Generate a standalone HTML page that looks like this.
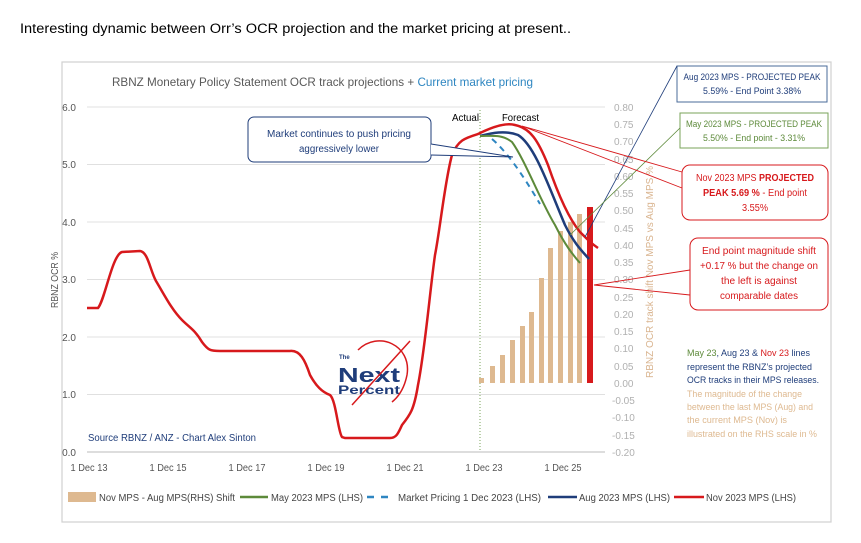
<!DOCTYPE html>
<html><head><meta charset="utf-8"><style>
body{margin:0;background:#fff;width:861px;height:538px;overflow:hidden;font-family:"Liberation Sans",sans-serif}
</style></head><body>
<svg width="861" height="538" xmlns="http://www.w3.org/2000/svg" font-family="Liberation Sans, sans-serif">
<text x="20" y="33" font-size="13.5" fill="#000" textLength="551" lengthAdjust="spacingAndGlyphs">Interesting dynamic between Orr’s OCR projection and the market pricing at present..</text>
<rect x="62" y="62" width="769" height="460" fill="none" stroke="#d0d0d0" stroke-width="1.2"/>
<text x="112" y="86" font-size="12" fill="#595959" textLength="421" lengthAdjust="spacingAndGlyphs">RBNZ Monetary Policy Statement OCR track projections + <tspan fill="#2e86c1">Current market pricing</tspan></text>
<g stroke="#e0e0e0" stroke-width="1">
<line x1="87" y1="107" x2="605" y2="107"/><line x1="87" y1="164.5" x2="605" y2="164.5"/><line x1="87" y1="222" x2="605" y2="222"/><line x1="87" y1="279.5" x2="605" y2="279.5"/><line x1="87" y1="337" x2="605" y2="337"/><line x1="87" y1="394.5" x2="605" y2="394.5"/>
</g>
<line x1="87" y1="452" x2="605" y2="452" stroke="#bbb"/>
<g font-size="10" fill="#555" text-anchor="end">
<text x="76" y="111">6.0</text><text x="76" y="168">5.0</text><text x="76" y="226">4.0</text><text x="76" y="283">3.0</text><text x="76" y="341">2.0</text><text x="76" y="398">1.0</text><text x="76" y="456">0.0</text>
</g>
<text transform="translate(58,280) rotate(-90)" font-size="10" fill="#555" text-anchor="middle" textLength="56" lengthAdjust="spacingAndGlyphs">RBNZ OCR %</text>
<g font-size="10" fill="#555" text-anchor="middle">
<text x="89" y="471" textLength="37" lengthAdjust="spacingAndGlyphs">1 Dec 13</text><text x="168" y="471" textLength="37" lengthAdjust="spacingAndGlyphs">1 Dec 15</text><text x="247" y="471" textLength="37" lengthAdjust="spacingAndGlyphs">1 Dec 17</text><text x="326" y="471" textLength="37" lengthAdjust="spacingAndGlyphs">1 Dec 19</text><text x="405" y="471" textLength="37" lengthAdjust="spacingAndGlyphs">1 Dec 21</text><text x="484" y="471" textLength="37" lengthAdjust="spacingAndGlyphs">1 Dec 23</text><text x="563" y="471" textLength="37" lengthAdjust="spacingAndGlyphs">1 Dec 25</text>
</g>
<g font-size="10" fill="#b0b0b0">
<text x="614" y="111">0.80</text><text x="614" y="128">0.75</text><text x="614" y="145">0.70</text><text x="614" y="163">0.65</text><text x="614" y="180">0.60</text><text x="614" y="197">0.55</text><text x="614" y="214">0.50</text><text x="614" y="232">0.45</text><text x="614" y="249">0.40</text><text x="614" y="266">0.35</text><text x="614" y="283">0.30</text><text x="614" y="301">0.25</text><text x="614" y="318">0.20</text><text x="614" y="335">0.15</text><text x="614" y="352">0.10</text><text x="614" y="370">0.05</text><text x="614" y="387">0.00</text><text x="612" y="404">-0.05</text><text x="612" y="421">-0.10</text><text x="612" y="439">-0.15</text><text x="612" y="456">-0.20</text>
</g>
<text transform="translate(653,272) rotate(-90)" font-size="10" fill="#d9b48f" text-anchor="middle" textLength="212" lengthAdjust="spacingAndGlyphs">RBNZ OCR track shift Nov MPS vs Aug MPS %</text>
<line x1="480" y1="110" x2="480" y2="452" stroke="#7aa35a" stroke-dasharray="1,2"/>
<text x="452" y="121" font-size="10.5" fill="#000" textLength="27" lengthAdjust="spacingAndGlyphs">Actual</text>
<text x="502" y="121" font-size="10.5" fill="#000" textLength="37" lengthAdjust="spacingAndGlyphs">Forecast</text>
<g fill="#deb990">
<rect x="479" y="378" width="5" height="5"/><rect x="490" y="366" width="5" height="17"/><rect x="500" y="355" width="5" height="28"/><rect x="510" y="340" width="5" height="43"/><rect x="520" y="326" width="5" height="57"/><rect x="529" y="312" width="5" height="71"/><rect x="539" y="278" width="5" height="105"/><rect x="548" y="248" width="5" height="135"/><rect x="558" y="231" width="5" height="152"/><rect x="568" y="222" width="5" height="161"/><rect x="577" y="214" width="5" height="169"/>
</g>
<rect x="587" y="207" width="6" height="176" fill="#d7191c"/>
<path d="M87,308 L98,308 C105,300 112,255 122,252 L140,251 C148,252 150,270 156,281 C165,296 172,310 182,320 C190,328 195,330 202,342 C208,350 210,351 220,351 L290,351 C300,350 305,360 310,375 C316,386 322,392 330,395 C336,400 338,432 342,437 L345,438 L390,438 C396,438 398,434 402,425 C410,415 414,410 418,385 C425,350 430,290 435,255 C440,230 445,180 452,155 C458,140 465,138 478,134 C490,128 505,122 515,125 C530,128 538,140 548,165 C560,200 570,220 580,232 C588,240 592,244 598,248" fill="none" stroke="#d7191c" stroke-width="2.5"/>
<path d="M480,136 C492,133 505,130 518,135 C535,145 550,190 565,225 C575,245 583,252 589,259" fill="none" stroke="#1f3d7a" stroke-width="2.5"/>
<path d="M480,136 C492,136 502,134 512,142 C525,160 540,200 555,225 C565,245 573,255 580,263" fill="none" stroke="#5d8a3a" stroke-width="2"/>
<path d="M492,139 C505,150 520,170 540,204" fill="none" stroke="#2e86c1" stroke-width="2" stroke-dasharray="6,5"/>
<rect x="248" y="117" width="183" height="45" rx="6" fill="#fff" stroke="#1f3d7a"/>
<text x="339" y="137" font-size="10" fill="#1f3d7a" text-anchor="middle" textLength="144" lengthAdjust="spacingAndGlyphs">Market continues to push pricing</text>
<text x="339" y="152" font-size="10" fill="#1f3d7a" text-anchor="middle" textLength="80" lengthAdjust="spacingAndGlyphs">aggressively lower</text>
<polyline points="431,144 513,157 431,155" fill="#fff" stroke="#1f3d7a"/>
<rect x="677" y="66" width="150" height="36" fill="#fff" stroke="#4a6b9a"/>
<text x="752" y="80" font-size="9.5" fill="#1f3d7a" text-anchor="middle" textLength="137" lengthAdjust="spacingAndGlyphs">Aug 2023 MPS - PROJECTED PEAK</text>
<text x="752" y="94" font-size="9.5" fill="#1f3d7a" text-anchor="middle" textLength="98" lengthAdjust="spacingAndGlyphs">5.59% - End Point 3.38%</text>
<line x1="677" y1="66" x2="585" y2="237" stroke="#1f3d7a" stroke-width="0.8"/>
<rect x="680" y="113" width="148" height="35" fill="#fff" stroke="#7aa35a"/>
<text x="754" y="127" font-size="9.5" fill="#5d8a3a" text-anchor="middle" textLength="136" lengthAdjust="spacingAndGlyphs">May 2023 MPS - PROJECTED PEAK</text>
<text x="754" y="141" font-size="9.5" fill="#5d8a3a" text-anchor="middle" textLength="102" lengthAdjust="spacingAndGlyphs">5.50% - End point - 3.31%</text>
<line x1="680" y1="128" x2="570" y2="235" stroke="#5d8a3a" stroke-width="0.8"/>
<rect x="682" y="165" width="146" height="55" rx="8" fill="#fff" stroke="#d7191c"/>
<text x="755" y="181" font-size="10" fill="#d7191c" text-anchor="middle" textLength="118" lengthAdjust="spacingAndGlyphs">Nov 2023 MPS <tspan font-weight="bold">PROJECTED</tspan></text>
<text x="755" y="196" font-size="10" fill="#d7191c" text-anchor="middle" textLength="104" lengthAdjust="spacingAndGlyphs"><tspan font-weight="bold">PEAK 5.69 %</tspan> - End point</text>
<text x="755" y="211" font-size="10" fill="#d7191c" text-anchor="middle" textLength="26" lengthAdjust="spacingAndGlyphs">3.55%</text>
<polyline points="682,172 522,126 682,188" fill="none" stroke="#d7191c" stroke-width="0.9"/>
<rect x="690" y="238" width="138" height="72" rx="8" fill="#fff" stroke="#d7191c"/>
<text x="759" y="254" font-size="10" fill="#d7191c" text-anchor="middle" textLength="114" lengthAdjust="spacingAndGlyphs">End point magnitude shift</text>
<text x="759" y="269" font-size="10" fill="#d7191c" text-anchor="middle" textLength="118" lengthAdjust="spacingAndGlyphs">+0.17 % but the change on</text>
<text x="759" y="284" font-size="10" fill="#d7191c" text-anchor="middle" textLength="76" lengthAdjust="spacingAndGlyphs">the left is against</text>
<text x="759" y="299" font-size="10" fill="#d7191c" text-anchor="middle" textLength="78" lengthAdjust="spacingAndGlyphs">comparable dates</text>
<polyline points="690,270 594,285 690,295" fill="none" stroke="#d7191c" stroke-width="0.9"/>
<g font-size="9">
<text x="687" y="356" textLength="123" lengthAdjust="spacingAndGlyphs"><tspan fill="#5d8a3a">May 23</tspan><tspan fill="#1f3d7a">, Aug 23 &amp; </tspan><tspan fill="#d7191c">Nov 23</tspan><tspan fill="#1f3d7a"> lines</tspan></text>
<text x="687" y="370" fill="#1f3d7a" textLength="125" lengthAdjust="spacingAndGlyphs">represent the RBNZ’s projected</text>
<text x="687" y="383" fill="#1f3d7a" textLength="132" lengthAdjust="spacingAndGlyphs">OCR tracks in their MPS releases.</text>
<text x="687" y="397" fill="#deb990" textLength="115" lengthAdjust="spacingAndGlyphs">The magnitude of the change</text>
<text x="687" y="410" fill="#deb990" textLength="126" lengthAdjust="spacingAndGlyphs">between the last MPS (Aug) and</text>
<text x="687" y="423" fill="#deb990" textLength="100" lengthAdjust="spacingAndGlyphs">the current MPS (Nov) is</text>
<text x="687" y="437" fill="#deb990" textLength="130" lengthAdjust="spacingAndGlyphs">illustrated on the RHS scale in %</text>
</g>
<text x="88" y="441" font-size="10.5" fill="#1f3d7a" textLength="168" lengthAdjust="spacingAndGlyphs">Source RBNZ / ANZ - Chart Alex Sinton</text>
<text x="339" y="359" font-size="6" font-weight="bold" fill="#1f3d7a">The</text>
<text x="338" y="382" font-size="20" font-weight="bold" fill="#1f3d7a" textLength="62" lengthAdjust="spacingAndGlyphs">Next</text>
<text x="338" y="394" font-size="12" font-weight="bold" fill="#1f3d7a" textLength="62" lengthAdjust="spacingAndGlyphs">Percent</text>
<path d="M358,350 C378,330 412,345 407,375 C404,390 397,398 392,402" fill="none" stroke="#d7191c" stroke-width="1.5"/>
<line x1="352" y1="405" x2="410" y2="341" stroke="#d7191c" stroke-width="1.5"/>
<g font-size="10" fill="#444">
<rect x="68" y="492" width="28" height="10" fill="#deb990"/><text x="99" y="501" textLength="136" lengthAdjust="spacingAndGlyphs">Nov MPS - Aug MPS(RHS) Shift</text>
<line x1="240" y1="497" x2="268" y2="497" stroke="#5d8a3a" stroke-width="2.5"/><text x="271" y="501" textLength="92" lengthAdjust="spacingAndGlyphs">May 2023 MPS (LHS)</text>
<line x1="367" y1="497" x2="391" y2="497" stroke="#2e86c1" stroke-width="2.5" stroke-dasharray="7,7"/><text x="398" y="501" textLength="143" lengthAdjust="spacingAndGlyphs">Market Pricing 1 Dec 2023 (LHS)</text>
<line x1="548" y1="497" x2="577" y2="497" stroke="#1f3d7a" stroke-width="2.5"/><text x="579" y="501" textLength="91" lengthAdjust="spacingAndGlyphs">Aug 2023 MPS (LHS)</text>
<line x1="674" y1="497" x2="704" y2="497" stroke="#d7191c" stroke-width="2.5"/><text x="706" y="501" textLength="90" lengthAdjust="spacingAndGlyphs">Nov 2023 MPS (LHS)</text>
</g>
</svg>
</body></html>
